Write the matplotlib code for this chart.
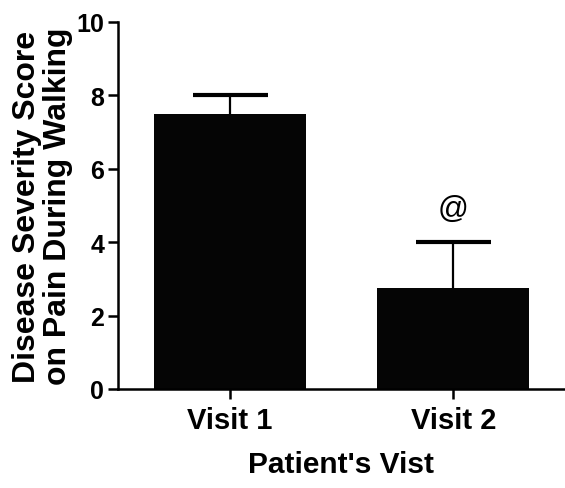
import matplotlib
matplotlib.use("Agg")
import matplotlib.pyplot as plt
import numpy as np

visits = ["Visit 1", "Visit 2"]
scores = [7.5, 2.75]
errors = [0.5, 1.25]
marks = ["", "@"]
y_ticks = [0, 2, 4, 6, 8, 10]

plt.rcParams["font.family"] = ["Liberation Sans", "DejaVu Sans"]
plt.rcParams["font.weight"] = "bold"
plt.rcParams["axes.labelweight"] = "bold"

fig = plt.figure(figsize=(5.65, 4.89), dpi=100)
ax = fig.add_axes([118 / 565, 1 - 390 / 489, 1 - 118 / 565, (390 - 23) / 489])

x = np.arange(len(visits))
ax.bar(x, scores, width=0.68, color="#050505", zorder=2)
eb = ax.errorbar(x, scores, yerr=[np.zeros(len(errors)), errors], fmt="none",
                 ecolor="black", elinewidth=1.6, capsize=27, capthick=3,
                 zorder=1)
# only the upper whisker is shown
eb[1][0].set_visible(False)

# significance marker above the second bar
for xi, s, e, m in zip(x, scores, errors, marks):
    if m:
        ax.text(xi, s + e + 0.5, m, ha="center", va="bottom", fontsize=22,
                fontweight="normal")

ax.set_xlim(-0.5, 1.5)
ax.set_ylim(0, 10)
ax.set_yticks(y_ticks)
ax.set_xticks(x)
ax.set_xticklabels(visits, fontsize=21)
ax.tick_params(axis="y", labelsize=18, length=7, width=1.8, pad=3)
ax.tick_params(axis="x", length=7, width=1.8, pad=5)

for side in ("top", "right"):
    ax.spines[side].set_visible(False)
for side in ("left", "bottom"):
    ax.spines[side].set_linewidth(1.8)

ax.set_xlabel("Patient's Vist", fontsize=21.5, labelpad=12)
ax.set_ylabel("Disease Severity Score\non Pain During Walking", fontsize=23,
              linespacing=1.08, labelpad=2)

fig.savefig("out.png", dpi=100)
